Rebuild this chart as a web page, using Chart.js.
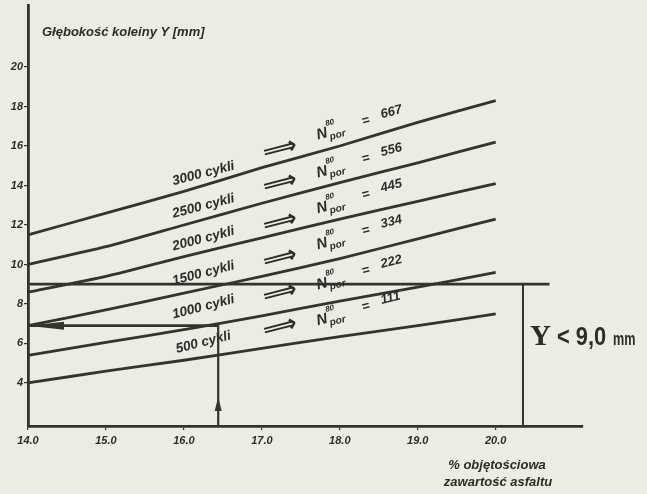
<!DOCTYPE html>
<html>
<head>
<meta charset="utf-8">
<script src="https://cdn.jsdelivr.net/npm/chart.js@4.4.1/dist/chart.umd.min.js"></script>
<style>
    body { margin: 0; background: #ecebe4; }
    canvas { display: block; }
</style>
</head>
<body>
<canvas id="lienzo" width="647" height="494"></canvas>
<script>
// zawartość asfaltu [% obj.] -> głębokość koleiny Y [mm]
const asphalt = [14, 15, 16, 17, 18, 19, 20]
const cycles = ["3000 cykli", "2500 cykli", "2000 cykli", "1500 cykli", "1000 cykli", "500 cykli"]
const nPor = [667, 556, 445, 334, 222, 111]
const depth3000 = [11.5, 12.6, 13.7, 14.9, 16.0, 17.2, 18.3]
const depth2500 = [10.0, 10.9, 12.0, 13.1, 14.15, 15.15, 16.2]
const depth2000 = [8.6, 9.4, 10.4, 11.35, 12.3, 13.2, 14.1]
const depth1500 = [6.9, 7.7, 8.55, 9.4, 10.3, 11.3, 12.3]
const depth1000 = [5.4, 6.05, 6.7, 7.4, 8.15, 8.85, 9.6]
const depth500 = [4.0, 4.6, 5.15, 5.75, 6.35, 6.9, 7.5]
const yTicks = [4, 6, 8, 10, 12, 14, 16, 18, 20]
const limitDepth = 9.0
const readAsphalt = 16.44
const readDepth = 6.9

const ink = "#34342f"
const yMin = 1.82
const allDepths = [depth3000, depth2500, depth2000, depth1500, depth1000, depth500]

let datasets = allDepths.map((serie, i) => ({
    label: cycles[i],
    data: asphalt.map((x, j) => ({x: x, y: serie[j]})),
    borderColor: ink,
    borderWidth: 2.8,
    tension: 0.2,
    pointRadius: 0,
    clip: false
}))
// linia graniczna Y = 9,0 mm i klamra
datasets.push({data: [{x: 14, y: limitDepth}, {x: 20.69, y: limitDepth}], borderColor: ink, borderWidth: 2.8, pointRadius: 0, clip: false})
datasets.push({data: [{x: 20.35, y: limitDepth}, {x: 20.35, y: yMin}], borderColor: ink, borderWidth: 2, pointRadius: 0, clip: false})
// odczyt przykładowy
datasets.push({data: [{x: readAsphalt, y: yMin}, {x: readAsphalt, y: 7.0}], borderColor: ink, borderWidth: 2.2, pointRadius: 0, clip: false})
datasets.push({data: [{x: readAsphalt, y: readDepth}, {x: 14, y: readDepth}], borderColor: ink, borderWidth: 2.8, pointRadius: 0, clip: false})

const labelPos = {
    cykliX: 16.25, cykliY: [14.6, 12.95, 11.3, 9.55, 7.85, 6.05],
    arrowX: 17.23, arrowY: [15.85, 14.13, 12.15, 10.33, 8.56, 6.84],
    nX: 17.77, nY: [16.6, 14.68, 12.86, 11.04, 9.01, 7.19]
}

function arrowHead(ctx, tx, ty, dx, dy, len, half) {
    ctx.beginPath()
    ctx.moveTo(tx, ty)
    ctx.lineTo(tx + dx * len - dy * half, ty + dy * len + dx * half)
    ctx.lineTo(tx + dx * len + dy * half, ty + dy * len - dx * half)
    ctx.closePath()
    ctx.fill()
}

const annotate = {
    id: "annotate",
    afterDatasetsDraw(chart) {
        const ctx = chart.ctx
        const sx = chart.scales.x, sy = chart.scales.y
        const px = v => sx.getPixelForValue(v), py = v => sy.getPixelForValue(v)
        const angle = -14.5 * Math.PI / 180
        ctx.save()
        ctx.fillStyle = "#2c2c28"
        ctx.textBaseline = "middle"

        // tytuł osi Y
        ctx.font = "italic bold 13px 'Liberation Sans', sans-serif"
        ctx.textAlign = "left"
        ctx.fillText("Głębokość koleiny Y [mm]", 42, 32)

        // tytuł osi X
        ctx.textAlign = "center"
        ctx.fillText("% objętościowa", 497, 465)
        ctx.fillText("zawartość asfaltu", 498, 482)

        for (let i = 0; i < cycles.length; i++) {
            ctx.save()
            ctx.translate(px(labelPos.cykliX), py(labelPos.cykliY[i]))
            ctx.rotate(angle)
            ctx.textAlign = "center"
            ctx.font = "italic bold 13.5px 'Liberation Sans', sans-serif"
            ctx.fillText(cycles[i], 0, 0)
            ctx.restore()

            ctx.save()
            ctx.translate(px(labelPos.arrowX), py(labelPos.arrowY[i]))
            ctx.rotate(angle)
            ctx.textAlign = "center"
            ctx.font = "bold 24px 'DejaVu Sans', sans-serif"
            ctx.fillText("⟹", 0, 1)
            ctx.restore()

            ctx.save()
            ctx.translate(px(labelPos.nX), py(labelPos.nY[i]))
            ctx.rotate(angle)
            ctx.textAlign = "center"
            ctx.font = "italic bold 15px 'Liberation Sans', sans-serif"
            ctx.fillText("N", 0, 0)
            ctx.textAlign = "left"
            ctx.font = "italic bold 8px 'Liberation Sans', sans-serif"
            ctx.fillText("80", 6, -9)
            ctx.font = "italic bold 10px 'Liberation Sans', sans-serif"
            ctx.fillText("por", 7, 5)
            ctx.font = "italic bold 13px 'Liberation Sans', sans-serif"
            ctx.fillText("=", 42, -2)
            ctx.fillText(String(nPor[i]), 62, -4)
            ctx.restore()
        }

        // Y < 9,0 mm
        ctx.textBaseline = "alphabetic"
        ctx.textAlign = "left"
        ctx.font = "bold 29px 'Liberation Serif', serif"
        ctx.fillText("Y", 530, 345)
        ctx.save()
        ctx.translate(557, 345)
        ctx.scale(0.84, 1)
        ctx.font = "bold 26px 'Liberation Sans', sans-serif"
        ctx.fillText("< 9,0", 0, 0)
        ctx.restore()
        ctx.save()
        ctx.translate(613, 345)
        ctx.scale(0.7, 1)
        ctx.font = "bold 18px 'Liberation Sans', sans-serif"
        ctx.fillText("mm", 0, 0)
        ctx.restore()

        // groty strzałek odczytu
        ctx.fillStyle = ink
        arrowHead(ctx, px(14), py(readDepth), 1, 0, 36, 4)
        arrowHead(ctx, px(readAsphalt), py(3.29), 0, 1, 14, 3.5)
        ctx.restore()
    }
}

new Chart(document.getElementById("lienzo"), {
    type: "line",
    data: {datasets: datasets},
    plugins: [annotate],
    options: {
        responsive: false,
        animation: false,
        layout: {padding: {left: 0, right: 64, top: 5, bottom: 0}},
        plugins: {legend: {display: false}, tooltip: {enabled: false}, title: {display: false}},
        scales: {
            x: {
                type: "linear",
                min: 14,
                max: 21.12,
                afterBuildTicks: s => { s.ticks = asphalt.map(v => ({value: v})) },
                afterFit: s => { s.height = 68; s.paddingLeft = 0; s.paddingRight = 0 },
                border: {color: ink, width: 2.8},
                grid: {drawOnChartArea: false, color: ink, tickLength: 4, lineWidth: 1.2},
                ticks: {
                    color: "#2c2c28",
                    padding: 4,
                    maxRotation: 0,
                    font: {family: "'Liberation Sans', sans-serif", size: 11, style: "italic", weight: "bold"},
                    callback: v => Number(v).toFixed(1)
                }
            },
            y: {
                min: yMin,
                max: 23.14,
                afterBuildTicks: s => { s.ticks = yTicks.map(v => ({value: v})) },
                afterFit: s => { s.width = 28; s.paddingTop = 0; s.paddingBottom = 0 },
                border: {color: ink, width: 2.8},
                grid: {drawOnChartArea: false, color: ink, tickLength: 4, lineWidth: 1.2},
                ticks: {
                    color: "#2c2c28",
                    padding: 1,
                    font: {family: "'Liberation Sans', sans-serif", size: 11, style: "italic", weight: "bold"}
                }
            }
        }
    }
})
</script>
</body>
</html>
